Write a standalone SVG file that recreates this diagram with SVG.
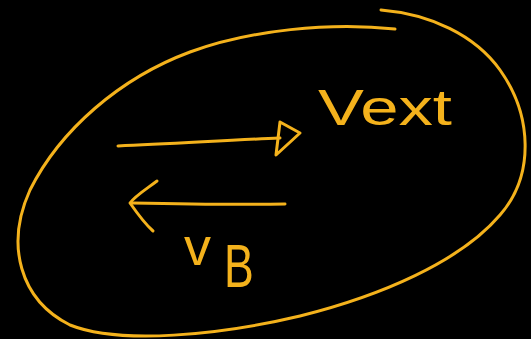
<svg xmlns="http://www.w3.org/2000/svg" width="531" height="339" viewBox="0 0 531 339">
<style>
.s{fill:none;stroke:#F4B21C;stroke-width:3;stroke-linecap:round;stroke-linejoin:round}
.t{fill:#F4B21C;font-family:"Liberation Sans","DejaVu Sans",sans-serif}
</style>
<rect width="531" height="339" fill="#000"/>
<g id="loop">
<path class="s" d="M395,29 C330,22 250,30 190,52 C120,78 60,130 30,190 C5,245 20,300 70,325 C120,345 220,335 300,316 C380,296 460,262 500,215 C535,175 532,115 500,70 C475,35 430,14 381,10"/>
</g>
<g id="connectors">
<g id="arrow-ext">
<path class="s" d="M118,146 C170,144 230,140 280,138"/>
<path class="s" d="M280,122 L300,133 L276,155 Z"/>
</g>
<g id="arrow-b">
<path class="s" d="M285,204 C230,205 180,204 132,203"/>
<path class="s" d="M157,181 C145,190 135,196 130,203 C137,213 145,224 153,231"/>
</g>
</g>
<g id="label-ext">
<text class="t" x="318" y="125" font-size="50" textLength="134" lengthAdjust="spacingAndGlyphs">Vext</text>
</g>
<g id="label-b">
<text class="t" x="184" y="265" font-size="54">v</text>
<text class="t" transform="translate(224,287) scale(0.72,1)" font-size="62">B</text>
</g>
</svg>
